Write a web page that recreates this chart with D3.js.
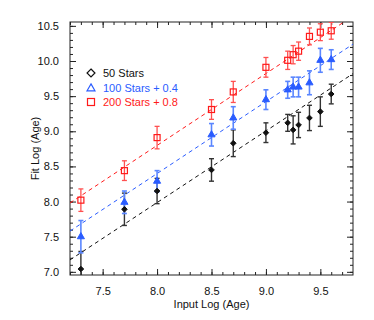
<!DOCTYPE html>
<html><head><meta charset="utf-8">
<script src="https://cdn.jsdelivr.net/npm/d3@7"></script>
<style>
html,body{margin:0;padding:0;background:#fff;}
svg{display:block;font-family:"Liberation Sans",Arial,Helvetica,sans-serif;}
</style></head>
<body>
<svg id="chart" width="374" height="320"></svg>
<script>
// ---- data ----
const inputAge = [7.3, 7.7, 8.0, 8.5, 8.7, 9.0, 9.2, 9.25, 9.3, 9.4, 9.5, 9.6];
const fit50  = [7.04, 7.89, 8.15, 8.45, 8.83, 8.98, 9.12, 9.02, 9.09, 9.19, 9.28, 9.53];
const err50  = [0.25, 0.23, 0.18, 0.16, 0.19, 0.14, 0.12, 0.20, 0.18, 0.18, 0.21, 0.14];
const fit100 = [7.50, 7.99, 8.29, 8.95, 9.19, 9.45, 9.59, 9.63, 9.63, 9.69, 10.01, 10.02];
const err100 = [0.23, 0.16, 0.15, 0.16, 0.16, 0.14, 0.12, 0.14, 0.14, 0.17, 0.17, 0.14];
const fit200 = [8.02, 8.44, 8.91, 9.31, 9.56, 9.91, 10.01, 10.09, 10.14, 10.35, 10.41, 10.43];
const err200 = [0.16, 0.14, 0.16, 0.14, 0.15, 0.14, 0.13, 0.13, 0.13, 0.12, 0.12, 0.12];
const lineX   = [7.2, 9.8];
const line50  = [7.17, 9.82];
const line100 = [7.58, 10.24];
const line200 = [7.98, 10.64];
const legendLabels = ["50 Stars", "100 Stars + 0.4", "200 Stars + 0.8"];
const xTicks = [7.5, 8.0, 8.5, 9.0, 9.5];
const yTicks = [7.0, 7.5, 8.0, 8.5, 9.0, 9.5, 10.0, 10.5];

// ---- layout ----
const L = 70, R = 353, T = 22, B = 275;
const svg = d3.select("#chart");
const x = d3.scaleLinear().domain([7.2, 9.8]).range([L, R]);
const y = d3.scaleLinear().domain([6.955, 10.555]).range([B, T]);

const colBlack = "#111", colBlue = "#2a5cff", colRed = "#ff1a1a";
const barBlack = "#333", barBlue = "#5a86ff", barRed = "#ff5050";

svg.append("clipPath").attr("id","clip").append("rect")
  .attr("x", L).attr("y", T).attr("width", R - L).attr("height", B - T);

// ---- axes with ticks on all sides ----
const minorX = d3.range(72, 98).map(v => v / 10);
const minorY = d3.range(70, 106).map(v => v / 10);
const fmt = d3.format(".1f");

function axisG(axis, tx, ty) {
  const g = svg.append("g").attr("transform", `translate(${tx},${ty})`).call(axis);
  g.select(".domain").remove();
  g.selectAll("line").attr("stroke", "#222");
  g.selectAll("text").attr("fill", "#111").attr("font-size", 11);
  return g;
}
// minor
axisG(d3.axisBottom(x).tickValues(minorX).tickSize(-3).tickFormat(""), 0, B);
axisG(d3.axisTop(x).tickValues(minorX).tickSize(-3).tickFormat(""), 0, T);
axisG(d3.axisLeft(y).tickValues(minorY).tickSize(-3).tickFormat(""), L, 0);
axisG(d3.axisRight(y).tickValues(minorY).tickSize(-3).tickFormat(""), R, 0);
// major
axisG(d3.axisBottom(x).tickValues(xTicks).tickSize(-6).tickPadding(12).tickFormat(fmt), 0, B);
axisG(d3.axisTop(x).tickValues(xTicks).tickSize(-6).tickFormat(""), 0, T);
axisG(d3.axisLeft(y).tickValues(yTicks).tickSize(-6).tickPadding(11).tickFormat(fmt), L, 0);
axisG(d3.axisRight(y).tickValues(yTicks).tickSize(-6).tickFormat(""), R, 0);

svg.append("rect").attr("x", L).attr("y", T).attr("width", R - L).attr("height", B - T)
  .attr("fill", "none").attr("stroke", "#222").attr("stroke-width", 1);

// axis titles
svg.append("text").attr("x", (L + R) / 2).attr("y", 308).attr("text-anchor", "middle")
  .attr("font-size", 11).attr("fill", "#111").text("Input Log (Age)");
svg.append("text").attr("transform", `translate(39,${(T + B) / 2}) rotate(-90)`)
  .attr("text-anchor", "middle").attr("font-size", 11).attr("fill", "#111").text("Fit Log (Age)");

// ---- plot ----
const plot = svg.append("g").attr("clip-path", "url(#clip)");

function fitLine(vals, col) {
  plot.append("line")
    .attr("x1", x(lineX[0])).attr("y1", y(vals[0]))
    .attr("x2", x(lineX[1])).attr("y2", y(vals[1]))
    .attr("stroke", col).attr("stroke-width", 1).attr("stroke-dasharray", "4,3.5");
}
fitLine(line50, colBlack);
fitLine(line100, colBlue);
fitLine(line200, colRed);

function errBars(vals, errs, col, w) {
  const g = plot.append("g").attr("stroke", col).attr("stroke-width", w);
  inputAge.forEach((a, i) => {
    const cx = x(a), y1 = y(vals[i] + errs[i]), y2 = y(vals[i] - errs[i]);
    g.append("line").attr("x1", cx).attr("x2", cx).attr("y1", y1).attr("y2", y2);
    g.append("line").attr("x1", cx - 2.5).attr("x2", cx + 2.5).attr("y1", y1).attr("y2", y1);
    g.append("line").attr("x1", cx - 2.5).attr("x2", cx + 2.5).attr("y1", y2).attr("y2", y2);
  });
}
errBars(fit50, err50, barBlack, 1.4);
errBars(fit100, err100, barBlue, 1.6);
errBars(fit200, err200, barRed, 1.3);

// markers
plot.selectAll(".d50").data(inputAge).join("path")
  .attr("d", d3.symbol(d3.symbolDiamond2, 20)())
  .attr("transform", (d, i) => `translate(${x(d)},${y(fit50[i])})`)
  .attr("fill", colBlack).attr("stroke", colBlack).attr("stroke-width", 1);
plot.selectAll(".t100").data(inputAge).join("path")
  .attr("d", d3.symbol(d3.symbolTriangle, 22)())
  .attr("transform", (d, i) => `translate(${x(d)},${y(fit100[i])})`)
  .attr("fill", colBlue).attr("stroke", colBlue).attr("stroke-width", 1);
plot.selectAll(".s200").data(inputAge).join("rect")
  .attr("x", d => x(d) - 3).attr("y", (d, i) => y(fit200[i]) - 3)
  .attr("width", 6).attr("height", 6)
  .attr("fill", "none").attr("stroke", colRed).attr("stroke-width", 1.2);

// ---- legend ----
const legCols = [colBlack, colBlue, colRed];
const legY = [73, 88, 102];
const lg = svg.append("g");
legendLabels.forEach((t, i) => {
  lg.append("text").attr("x", 103).attr("y", legY[i] + 4).attr("font-size", 11)
    .attr("fill", legCols[i]).text(t);
});
lg.append("path").attr("d", d3.symbol(d3.symbolDiamond2, 40)())
  .attr("transform", `translate(91,${legY[0]})`)
  .attr("fill", "none").attr("stroke", colBlack).attr("stroke-width", 1.2);
lg.append("path").attr("d", d3.symbol(d3.symbolTriangle2, 45)())
  .attr("transform", `translate(91,${legY[1] + 0.5})`)
  .attr("fill", "none").attr("stroke", colBlue).attr("stroke-width", 1.2);
lg.append("rect").attr("x", 87.5).attr("y", legY[2] - 3.5).attr("width", 7).attr("height", 7)
  .attr("fill", "none").attr("stroke", colRed).attr("stroke-width", 1.2);
</script>
</body></html>
